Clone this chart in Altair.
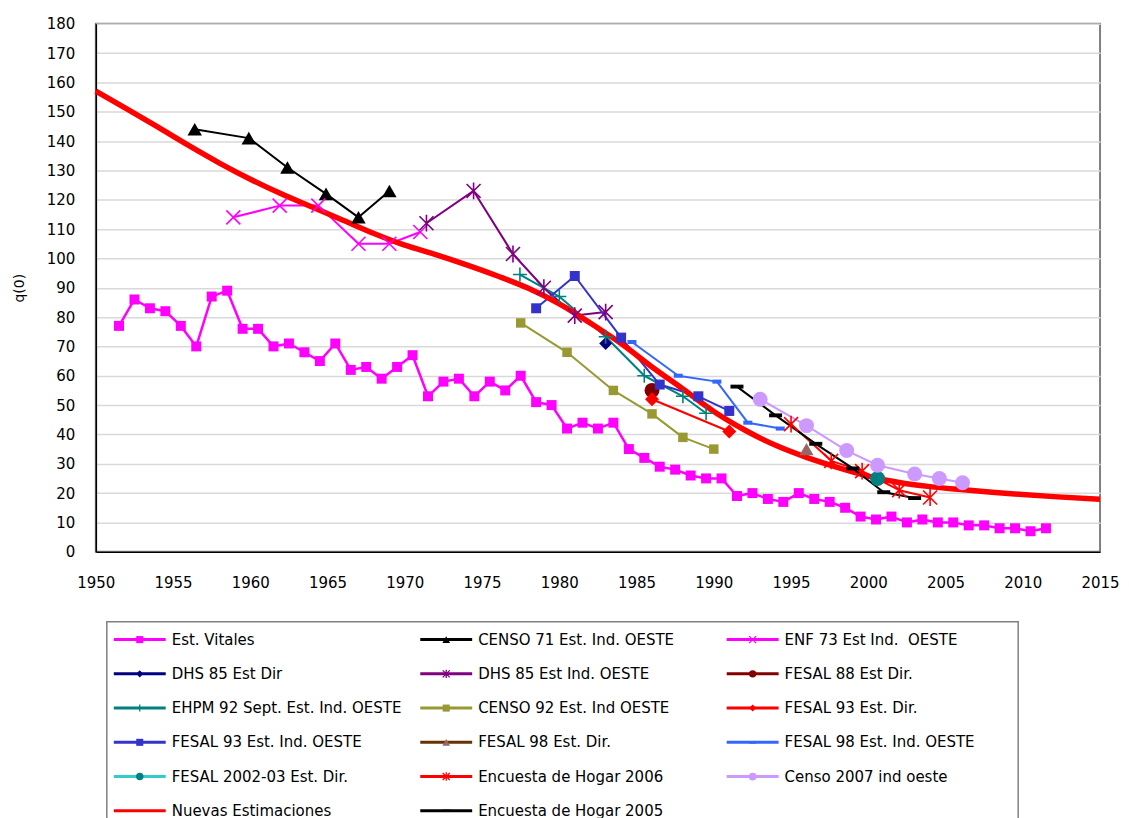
import altair as alt
import pandas as pd

# ---------------- data ----------------
ev_year = [1951.5, 1952.5, 1953.5, 1954.5, 1955.5, 1956.5, 1957.5, 1958.5, 1959.5, 1960.5,
           1961.5, 1962.5, 1963.5, 1964.5, 1965.5, 1966.5, 1967.5, 1968.5, 1969.5, 1970.5,
           1971.5, 1972.5, 1973.5, 1974.5, 1975.5, 1976.5, 1977.5, 1978.5, 1979.5, 1980.5,
           1981.5, 1982.5, 1983.5, 1984.5, 1985.5, 1986.5, 1987.5, 1988.5, 1989.5, 1990.5,
           1991.5, 1992.5, 1993.5, 1994.5, 1995.5, 1996.5, 1997.5, 1998.5, 1999.5, 2000.5,
           2001.5, 2002.5, 2003.5, 2004.5, 2005.5, 2006.5, 2007.5, 2008.5, 2009.5, 2010.5, 2011.5]
ev_q = [77, 86, 83, 82, 77, 70, 87, 89, 76, 76,
        70, 71, 68, 65, 71, 62, 63, 59, 63, 67,
        53, 58, 59, 53, 58, 55, 60, 51, 50, 42,
        44, 42, 44, 35, 32, 29, 28, 26, 25, 25,
        19, 20, 18, 17, 20, 18, 17, 15, 12, 11,
        12, 10, 11, 10, 10, 9, 9, 8, 8, 7, 8]

c71_year = [1956.4, 1959.9, 1962.4, 1964.9, 1967.0, 1969.0]
c71_q = [144, 141, 131, 122, 114, 123]

enf_year = [1958.9, 1961.9, 1964.4, 1967.0, 1969.0, 1971.0]
enf_q = [114, 118, 118, 105, 105, 109]

dhsd_year = [1983.0]
dhsd_q = [71]

dhsi_year = [1971.4, 1974.45, 1977.0, 1979.0, 1981.0, 1983.0]
dhsi_q = [112, 123, 101.5, 90, 80.5, 81.7]

f88_year = [1986.0]
f88_q = [55]

ehpm_year = [1977.45, 1980.0, 1983.0, 1985.5, 1988.0, 1989.5]
ehpm_q = [94.5, 87, 73.3, 60, 53, 47.2]

c92_year = [1977.5, 1980.5, 1983.5, 1986.0, 1988.0, 1990.0]
c92_q = [78, 68, 55, 47, 39, 35]

f93d_year = [1986.0, 1991.0]
f93d_q = [52, 41]

f93i_year = [1978.5, 1981.0, 1984.0, 1986.5, 1989.0, 1991.0]
f93i_q = [83, 94, 73, 57, 53, 48]

f98d_year = [1996.0]
f98d_q = [35]

f98i_year = [1984.7, 1987.7, 1990.2, 1992.2, 1994.3]
f98i_q = [71.5, 60, 58, 44, 42]

f02_year = [2000.6]
f02_q = [25]

eh06_year = [1995.0, 1997.6, 1999.6, 2002.0, 2004.0]
eh06_q = [43.5, 31, 27.5, 21, 18.5]

c07_year = [1993.0, 1996.0, 1998.6, 2000.6, 2003.0, 2004.6, 2006.1]
c07_q = [52, 43, 34.5, 29.5, 26.5, 25, 23.5]

nue_year = [1950, 1952, 1954, 1956, 1958, 1960, 1962, 1964, 1966, 1968, 1970,
            1972, 1974, 1976, 1978, 1980, 1982, 1984, 1986, 1988, 1990, 1992,
            1994, 1996, 1998, 2000, 2002, 2004, 2006, 2008, 2010, 2012, 2015]
nue_q = [157, 151, 144.8, 138.5, 132.5, 127, 122, 117.5, 113, 108.5, 104.5,
         101.3, 97.8, 94, 89.8, 84.5, 78, 71, 63, 55.5, 47.8, 41.5,
         36.3, 32.2, 28.8, 25.8, 23.6, 22.2, 21.2, 20.3, 19.5, 18.8, 17.9]

eh05_year = [1991.5, 1994.0, 1996.6, 1999.0, 2001.0, 2003.0]
eh05_q = [56.3, 46.5, 36.8, 28.4, 20.3, 18.3]

labels = ["Est. Vitales", "CENSO 71 Est. Ind. OESTE", "ENF 73 Est Ind. \u00a0OESTE",
          "DHS 85 Est Dir", "DHS 85 Est Ind. OESTE", "FESAL 88 Est Dir.",
          "EHPM 92 Sept. Est. Ind. OESTE", "CENSO 92 Est. Ind OESTE", "FESAL 93 Est. Dir.",
          "FESAL 93 Est. Ind. OESTE", "FESAL 98 Est. Dir.", "FESAL 98 Est. Ind. OESTE",
          "FESAL 2002-03 Est. Dir.", "Encuesta de Hogar 2006", "Censo 2007 ind oeste",
          "Nuevas Estimaciones", "Encuesta de Hogar 2005"]
years = [ev_year, c71_year, enf_year, dhsd_year, dhsi_year, f88_year, ehpm_year, c92_year,
         f93d_year, f93i_year, f98d_year, f98i_year, f02_year, eh06_year, c07_year,
         nue_year, eh05_year]
values = [ev_q, c71_q, enf_q, dhsd_q, dhsi_q, f88_q, ehpm_q, c92_q, f93d_q, f93i_q,
          f98d_q, f98i_q, f02_q, eh06_q, c07_q, nue_q, eh05_q]

# ---------------- styles ----------------
X_PATH = "M-1,-1L1,1M-1,1L1,-1"
STAR_PATH = "M-1,-1L1,1M-1,1L1,-1M0,-1.2L0,1.2"
PLUS_PATH = "M-1,0L1,0M0,-1L0,1"
DASH_PATH = "M-1,-0.3L1,-0.3L1,0.3L-1,0.3Z"
SMALLRECT_PATH = "M-1,-0.45L1,-0.45L1,0.45L-1,0.45Z"

line_colors = ["#FF00FF", "#000000", "#FF00FF", "#000080", "#800080", "#800000",
               "#008080", "#999933", "#FF0000", "#3333CC", "#663300", "#3366FF",
               "#33CCCC", "#FF0000", "#CC99FF", "#FF0000", "#000000"]
marker_colors = ["#FF00FF", "#000000", "#FF00FF", "#000080", "#800080", "#800000",
                 "#008080", "#999933", "#FF0000", "#3333CC", "#996666", "#3366FF",
                 "#008080", "#FF0000", "#CC99FF", "#FF0000", "#000000"]
line_widths = [2.5, 2, 2, 2, 2, 2, 2, 2, 2, 2, 2, 2, 2, 2, 2, 5.5, 2]
shapes = ["square", "triangle-up", X_PATH, "diamond", STAR_PATH, "circle",
          PLUS_PATH, "square", "diamond", "square", "triangle-up", SMALLRECT_PATH,
          "circle", STAR_PATH, "circle", None, DASH_PATH]
stroked = [False, False, True, False, True, False, True, False, False, False, False,
           False, False, True, False, False, False]
sizes = [100, 210, 196, 169, 196, 225, 196, 90, 196, 100, 200, 81, 225, 196, 225, 0, 169]
leg_sizes = [50, 60, 49, 50, 49, 55, 49, 50, 50, 50, 60, 36, 55, 49, 60, 0, 64]
interp = ["linear"] * 15 + ["monotone", "linear"]

FONT = "Verdana, DejaVu Sans"
PW, PH = 1006, 529

xenc = alt.X("year:Q",
             scale=alt.Scale(domain=[1950, 2015], nice=False, zero=False),
             axis=alt.Axis(values=list(range(1950, 2016, 5)), format="d", title=None,
                           grid=False, ticks=False, domainColor="#000000", domainWidth=1.5,
                           labelFont=FONT, labelFontSize=15, labelColor="#000000",
                           labelPadding=24, labelFlush=False))
yenc = alt.Y("q:Q",
             scale=alt.Scale(domain=[0, 180], nice=False),
             axis=alt.Axis(values=list(range(0, 181, 10)), title="q(0)", grid=True,
                           gridColor="#D9D9D9", gridWidth=1.5, ticks=False,
                           domainColor="#000000", domainWidth=1.5,
                           labelFont=FONT, labelFontSize=15, labelColor="#000000",
                           labelPadding=21, labelFlush=False, titleFont=FONT,
                           titleFontSize=14, titleFontWeight="normal",
                           titleColor="#000000", titlePadding=20))

frames = [pd.DataFrame({"year": yy, "q": vv}) for yy, vv in zip(years, values)]

line_layers = []
point_layers = []
for i, df in enumerate(frames):
    if len(df) > 1:
        line_layers.append(
            alt.Chart(df).mark_line(color=line_colors[i], strokeWidth=line_widths[i],
                                    strokeJoin="round", interpolate=interp[i]
                                    ).encode(x=xenc, y=yenc))
    if shapes[i] is None:
        continue
    if stroked[i]:
        pm = alt.Chart(df).mark_point(shape=shapes[i], filled=False, stroke=marker_colors[i],
                                      strokeWidth=1.6, size=sizes[i], opacity=1)
    else:
        pm = alt.Chart(df).mark_point(shape=shapes[i], filled=True, fill=marker_colors[i],
                                      size=sizes[i], opacity=1, strokeWidth=0)
    point_layers.append(pm.encode(x=xenc, y=yenc))

main = alt.layer(*line_layers, *point_layers).properties(
    width=PW, height=PH,
    view=alt.ViewBackground(stroke="#808080", strokeWidth=2))

# ---------------- legend panel (origin aligned with plot's left edge) ----------------
LW, LH = 1000, 212
BOX_X0, BOX_X1, BOX_Y0 = 11, 924, 19
COL_X = [18, 325, 632]
LINE_LEN = 52
ROW_Y0 = 37
ROW_DY = 34.3
leg_rows = []
for i, lab in enumerate(labels):
    r, c = divmod(i, 3)
    x0 = COL_X[c]
    leg_rows.append({"label": lab, "x0": x0, "x1": x0 + LINE_LEN, "xm": x0 + LINE_LEN / 2,
                     "xt": x0 + LINE_LEN + 6, "y": ROW_Y0 + r * ROW_DY, "i": i})
leg_df = pd.DataFrame(leg_rows)

lx = alt.Scale(domain=[0, LW], range=[0, LW], nice=False, zero=False)
ly = alt.Scale(domain=[0, LH], range=[0, LH], nice=False, zero=False)

box = alt.Chart(pd.DataFrame({"a": [0]})).mark_rect(
    fill="white", stroke="#808080", strokeWidth=1.5).encode(
    x=alt.value(BOX_X0), x2=alt.value(BOX_X1), y=alt.value(BOX_Y0), y2=alt.value(LH + 20))

leg_layers = [box]
for i in range(len(labels)):
    sub = leg_df[leg_df["i"] == i]
    leg_layers.append(
        alt.Chart(sub).mark_rule(color=line_colors[i], strokeWidth=3).encode(
            x=alt.X("x0:Q", scale=lx, axis=None), x2="x1:Q",
            y=alt.Y("y:Q", scale=ly, axis=None)))
for i in range(len(labels)):
    if shapes[i] is None:
        continue
    sub = leg_df[leg_df["i"] == i]
    if stroked[i]:
        pm = alt.Chart(sub).mark_point(shape=shapes[i], filled=False, stroke=marker_colors[i],
                                       strokeWidth=1.3, size=leg_sizes[i], opacity=1)
    else:
        pm = alt.Chart(sub).mark_point(shape=shapes[i], filled=True, fill=marker_colors[i],
                                       size=leg_sizes[i], opacity=1, strokeWidth=0)
    leg_layers.append(pm.encode(x=alt.X("xm:Q", scale=lx, axis=None),
                                y=alt.Y("y:Q", scale=ly, axis=None)))
leg_layers.append(
    alt.Chart(leg_df).mark_text(align="left", baseline="middle", font=FONT, fontSize=15,
                                color="#000000").encode(
        x=alt.X("xt:Q", scale=lx, axis=None), y=alt.Y("y:Q", scale=ly, axis=None),
        text="label:N"))

legend = alt.layer(*leg_layers).properties(
    width=LW, height=LH, view=alt.ViewBackground(stroke="transparent"))

chart = alt.vconcat(main, legend, spacing=10).properties(
    padding={"left": 3, "top": 7, "right": 0, "bottom": 0},
    background="white")

chart.save("out.html", embed_options={"renderer": "svg", "actions": False})
